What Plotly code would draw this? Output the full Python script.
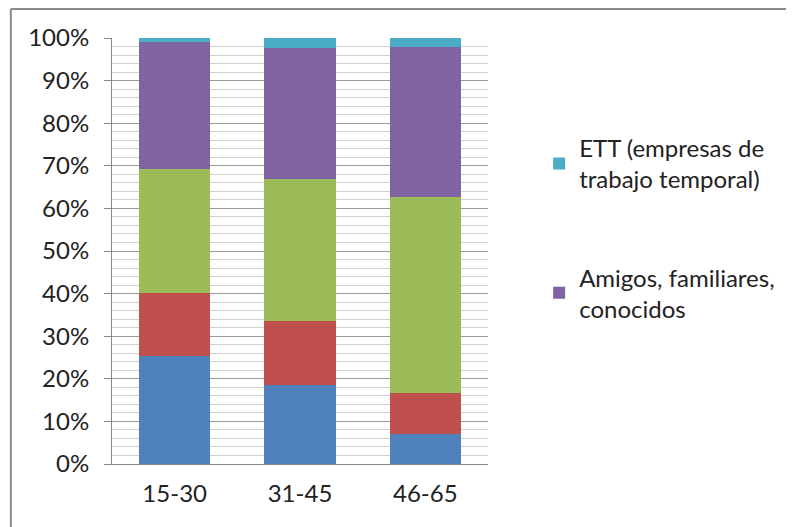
# 100% stacked columns by age group, Excel-style frame and gridlines.
import plotly.graph_objects as go

groups = ["15-30", "31-45", "46-65"]

# share (%) of each channel per age group, bottom to top
serie_azul = [25.4, 18.5, 7.0]
serie_roja = [14.7, 15.0, 9.6]
serie_verde = [29.1, 33.3, 46.0]
amigos = [29.8, 30.8, 35.2]
ett = [1.0, 2.4, 2.2]

names = ["Serie 1", "Serie 2", "Serie 3",
         "Amigos, familiares,<br>conocidos", "ETT (empresas de<br>trabajo temporal)"]
values = [serie_azul, serie_roja, serie_verde, amigos, ett]
colors = ["#4F81BD", "#C0504D", "#9BBB59", "#8064A2", "#4BACC6"]
in_legend = [False, False, False, True, True]

fig = go.Figure()
for i, (nm, vals, col, leg) in enumerate(zip(names, values, colors, in_legend)):
    fig.add_trace(go.Bar(x=groups, y=vals, name=nm, marker_color=col,
                         marker_line_width=0, showlegend=leg,
                         legendgroup=f"g{i}", legendrank=10 - i))

font = "Lato, 'Open Sans', sans-serif"
# page body adds 8px, so the figure is 786x519
fig.update_layout(
    barmode="stack", bargap=0.433,
    width=786, height=519,
    margin=dict(l=104, r=306, t=30, b=63),
    paper_bgcolor="white", plot_bgcolor="white",
    font=dict(family=font, size=24, color="#222222"),
    legend=dict(x=1.136, y=0.794, xanchor="left", yanchor="top",
                traceorder="grouped", tracegroupgap=64,
                font=dict(size=24), itemclick=False),
)
fig.update_yaxes(range=[0, 100], dtick=10, ticksuffix="%",
                 showgrid=True, gridcolor="#9a9a9a", gridwidth=1,
                 minor=dict(dtick=2, showgrid=True, gridcolor="#d0d0d0", gridwidth=1),
                 showline=True, linecolor="#888888", linewidth=1,
                 ticks="outside", ticklen=7, tickcolor="#888888",
                 ticklabelstandoff=10, zeroline=False, fixedrange=True)
fig.update_xaxes(showline=True, linecolor="#888888", linewidth=1,
                 ticks="", ticklabelstandoff=8, fixedrange=True)

# outer chart frame (only top and left edges fall inside the picture)
fig.add_shape(type="line", xref="paper", yref="paper", x0=-0.269, x1=1.85,
              y0=1.068, y1=1.068, line=dict(color="#8a8a8a", width=2))
fig.add_shape(type="line", xref="paper", yref="paper", x0=-0.269, x1=-0.269,
              y0=1.068, y1=-0.16, line=dict(color="#8a8a8a", width=2))

fig.write_html("out.html")
